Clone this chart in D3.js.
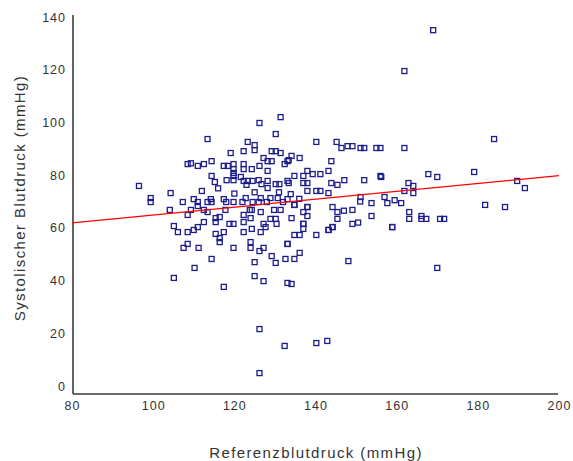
<!DOCTYPE html>
<html>
<head>
<meta charset="utf-8">
<script src="https://cdn.jsdelivr.net/npm/d3@7"></script>
<style>
  body { margin: 0; background: #fff; }
  text { font-family: "Liberation Sans", Arial, sans-serif; }
</style>
</head>
<body>
<div id="chart"></div>
<script>
// Referenzblutdruck (x) vs. systolischer Blutdruck (y), mmHg
var refPressure = [
  96.5, 99.4, 99.4, 104.3, 104.1, 105.1, 106.1, 108.5, 108.5, 107.5, 105.1, 107.3, 108.5, 108.5,
  131.4, 126.2, 113.4, 130.2, 123.3, 125.0, 125.0, 122.3, 119.1, 129.2, 130.2, 131.4, 127.2, 128.2,
  129.2, 133.1, 132.4, 114.4, 112.5, 111.0, 109.3, 117.4, 118.4, 119.8, 122.3, 126.2,
  140.2, 145.2, 146.4, 147.9, 149.1, 151.1, 152.0, 155.0, 156.0, 161.9, 134.1, 136.1, 133.4, 143.9,
  184.0, 161.9, 169.0,
  119.8, 122.3, 124.3, 128.2, 119.8, 114.4, 115.2, 118.1, 119.8, 119.8, 121.6, 122.3, 123.3, 123.0,
  124.5, 126.0, 126.7, 128.2, 128.2, 130.2, 131.1, 133.1, 134.8, 137.0, 138.0, 139.3, 141.2, 143.2,
  137.0, 138.0, 143.9, 145.4, 147.1, 152.0, 156.0, 133.4, 156.2, 167.8, 170.0, 179.1, 162.9, 164.1,
  161.9, 164.1, 189.7, 191.6, 157.0, 159.5,
  133.9, 138.0, 140.2, 141.2, 143.2, 151.1, 110.0, 114.2, 117.4, 122.8, 126.5, 128.9, 130.7, 133.1,
  120.0, 112.0, 116.0, 125.0, 131.0, 136.0,
  111.0, 113.4, 114.4, 118.0, 119.8, 122.0, 124.5, 126.0, 128.0, 132.0, 134.8, 138.0, 144.2, 149.1,
  153.8, 151.0, 157.7, 161.1, 181.8, 186.7, 109.3, 112.5, 113.4, 117.8, 123.8, 126.5, 129.8,
  137.0, 138.0, 134.1, 145.4, 145.4, 149.1, 153.8, 137.0, 163.1, 163.1, 166.1, 166.1, 167.3, 170.7,
  171.7, 158.9, 144.2, 143.2,
  115.4, 115.4, 116.4, 112.5, 111.0, 110.0, 118.8, 119.8, 122.3, 124.0, 124.3, 122.3, 126.5, 127.2,
  127.7, 128.9, 130.2, 130.4, 131.4, 124.3, 122.3, 115.4, 116.4, 116.4, 117.4, 111.2, 119.8, 124.0,
  124.0, 126.2, 127.2, 129.2, 130.2, 125.0, 114.4, 110.2, 125.0, 127.2, 133.1, 133.1, 117.4, 111.0,
  134.8, 138.0, 137.0, 137.0, 134.8, 136.1, 140.2, 143.2, 144.2, 133.1, 132.6, 134.8, 136.1, 148.1,
  134.1, 170.0, 158.9, 147.0, 150.5,
  126.2, 132.4, 140.2, 142.9, 126.2
];
var sysPressure = [
  75.9, 71.3, 69.8, 73.2, 66.8, 60.7, 58.4, 58.4, 53.9, 52.4, 41.0, 69.8, 84.2, 64.9,
  102.0, 99.8, 93.7, 95.6, 92.6, 91.4, 89.5, 89.1, 88.4, 89.1, 89.1, 88.4, 86.5, 85.3,
  85.3, 85.3, 84.2, 85.3, 84.2, 83.5, 84.5, 83.5, 83.5, 84.2, 84.2, 83.5,
  92.6, 92.6, 90.3, 91.0, 91.0, 90.3, 90.3, 90.3, 90.3, 90.3, 87.3, 86.5, 85.7, 85.3,
  93.7, 119.5, 135.0,
  82.3, 82.3, 82.3, 81.6, 80.8, 79.7, 77.4, 78.1, 79.7, 78.1, 79.3, 77.8, 77.8, 76.3,
  77.8, 78.1, 76.6, 77.8, 75.1, 76.6, 76.6, 77.8, 79.7, 79.7, 81.6, 80.4, 80.4, 81.6,
  77.0, 77.0, 77.0, 76.3, 78.1, 78.1, 79.7, 77.0, 79.3, 80.4, 79.3, 81.2, 77.0, 75.9,
  74.0, 73.2, 77.8, 75.1, 71.7, 70.5,
  72.8, 74.0, 74.0, 74.0, 73.2, 71.7, 70.9, 70.9, 70.9, 71.3, 71.3, 71.3, 71.3, 70.9,
  73.0, 74.0, 75.0, 73.5, 73.5, 71.0,
  69.8, 69.8, 69.8, 69.8, 69.8, 69.8, 69.8, 69.8, 69.8, 69.8, 68.7, 67.9, 67.9, 66.8,
  69.4, 70.0, 69.4, 69.4, 68.7, 67.9, 66.8, 66.8, 66.0, 66.8, 66.8, 66.0, 66.8,
  66.0, 64.5, 63.7, 66.0, 63.4, 61.5, 64.5, 61.5, 66.0, 63.4, 64.5, 63.4, 63.4, 63.4,
  63.4, 60.3, 60.3, 59.2,
  63.7, 62.2, 64.1, 62.2, 60.3, 59.2, 61.5, 61.5, 62.2, 63.7, 59.6, 58.4, 58.4, 61.5,
  60.3, 63.4, 63.4, 61.5, 66.8, 66.8, 64.9, 57.7, 56.1, 54.6, 58.4, 52.4, 52.4, 54.6,
  52.4, 51.2, 52.4, 49.3, 46.7, 47.0, 48.2, 44.8, 41.7, 39.8, 53.9, 39.1, 37.6, 68.3,
  68.7, 67.9, 61.5, 59.6, 57.3, 57.3, 57.3, 59.2, 60.3, 53.9, 48.2, 48.2, 50.5, 47.4,
  38.7, 44.8, 60.3, 66.5, 62.0,
  21.6, 15.2, 16.3, 17.1, 4.9
];

// fitted regression line, read at the two ends of the x range
var fitX = [80, 200];
var fitY = [61.9, 79.8];

var xTicks = [80, 100, 120, 140, 160, 180, 200];
var yTicks = [0, 20, 40, 60, 80, 100, 120, 140];

var width = 573, height = 461;

var svg = d3.select("#chart").append("svg")
    .attr("width", width)
    .attr("height", height);

var x = d3.scaleLinear().domain([80, 200]).range([72, 559]);
var y = d3.scaleLinear().domain([0, 140]).range([386, 17]);

var axisY0 = 394; // baseline sits a little below the 0 value

// axis lines
svg.append("line")
    .attr("x1", 73).attr("x2", 73)
    .attr("y1", 15).attr("y2", axisY0)
    .attr("stroke", "#3a3a3a").attr("stroke-width", 1.6);
svg.append("line")
    .attr("x1", 73).attr("x2", 558)
    .attr("y1", axisY0).attr("y2", axisY0)
    .attr("stroke", "#3a3a3a").attr("stroke-width", 1.6);

// tick labels via d3 axes (no tick marks)
var yAxis = svg.append("g")
    .attr("transform", "translate(66,0)")
    .call(d3.axisLeft(y).tickValues(yTicks).tickSize(0).tickPadding(0));
yAxis.select(".domain").remove();
yAxis.selectAll("text")
    .attr("font-family", "Liberation Sans, Arial, sans-serif")
    .attr("font-size", 12.5)
    .attr("letter-spacing", "1px")
    .attr("fill", "#333");

var xAxis = svg.append("g")
    .attr("transform", "translate(0," + 401 + ")")
    .call(d3.axisBottom(x).tickValues(xTicks).tickSize(0).tickPadding(0));
xAxis.select(".domain").remove();
xAxis.selectAll("text")
    .attr("font-family", "Liberation Sans, Arial, sans-serif")
    .attr("font-size", 12.5)
    .attr("letter-spacing", "1px")
    .attr("fill", "#333");

// axis titles
svg.append("text")
    .attr("x", 316).attr("y", 458)
    .attr("text-anchor", "middle")
    .attr("font-size", 15)
    .attr("letter-spacing", "1.4px")
    .attr("fill", "#333")
    .text("Referenzblutdruck (mmHg)");

svg.append("text")
    .attr("transform", "translate(25,198) rotate(-90)")
    .attr("text-anchor", "middle")
    .attr("font-size", 15)
    .attr("letter-spacing", "1.4px")
    .attr("fill", "#333")
    .text("Systolischer Blutdruck (mmHg)");

// points
var points = refPressure.map(function (d, i) { return { x: d, y: sysPressure[i] }; });

svg.append("g")
    .selectAll("rect")
    .data(points)
    .enter().append("rect")
    .attr("x", function (d) { return x(d.x) - 2.5; })
    .attr("y", function (d) { return y(d.y) - 2.5; })
    .attr("width", 5)
    .attr("height", 5)
    .attr("fill", "none")
    .attr("stroke", "#1c1c8a")
    .attr("stroke-width", 1.3);

// regression line
svg.append("line")
    .attr("x1", x(fitX[0])).attr("y1", y(fitY[0]))
    .attr("x2", x(fitX[1])).attr("y2", y(fitY[1]))
    .attr("stroke", "#ff0000")
    .attr("stroke-width", 1.2);
</script>
</body>
</html>
